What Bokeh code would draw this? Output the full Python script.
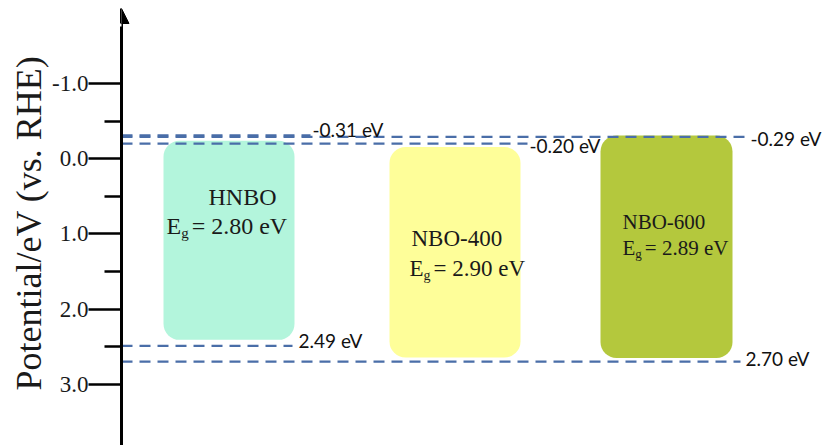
from bokeh.plotting import figure
from bokeh.models import Range1d, FixedTicker, Arrow, NormalHead, PrintfTickFormatter
from bokeh.core.properties import value
from bokeh.embed import file_html
from bokeh.resources import INLINE

# ---------------- data ----------------
samples = ["HNBO", "NBO-400", "NBO-600"]
band_gap = [2.80, 2.90, 2.89]
box_top = [-0.24, -0.155, -0.31]        # drawn top of each band box
box_bottom = [2.41, 2.645, 2.65]        # drawn bottom of each band box
box_colors = ["#b3f5dc", "#fefe99", "#b4c83d"]

level_values = [-0.31, -0.20, -0.29, 2.49, 2.70]
level_labels = ["-0.31 eV", "-0.20 eV", "-0.29 eV", "2.49 eV", "2.70 eV"]

y_ticks = [-1.0, 0.0, 1.0, 2.0, 3.0]
y_minor = [-0.5, 0.5, 1.5, 2.5]

# ---------------- layout (image pixel helpers) ----------------
W, H = 827, 445
AXIS_IMG_X = 121
ZERO_IMG_Y = 158.25
PX_PER_UNIT = 75.15


def X(img_x):
    return img_x - AXIS_IMG_X


def Y(img_y):
    return (img_y - ZERO_IMG_Y) / PX_PER_UNIT


y_top = Y(0)
y_bot = Y(H)

p = figure(width=W, height=H, output_backend="svg", toolbar_location=None,
           x_range=Range1d(0, W - AXIS_IMG_X), y_range=Range1d(y_bot, y_top),
           x_axis_location=None, min_border_left=AXIS_IMG_X, min_border_right=0,
           min_border_top=0, min_border_bottom=0)
p.grid.visible = False
p.outline_line_color = None
p.background_fill_color = "white"
p.border_fill_color = "white"

serif = "Liberation Serif"
sans = "Lato"

# band boxes
box_left = [X(163), X(389), X(600)]
box_right = [X(294), X(520), X(732)]
p.quad(left=box_left, right=box_right, top=box_top, bottom=box_bottom,
       fill_color=box_colors, line_color=None, border_radius=16)

# dashed level lines
line_end = [X(310), X(527), X(745), X(292), X(740)]
p.segment(x0=[0] * len(level_values), y0=level_values, x1=line_end, y1=level_values,
          line_color="#4a6ea8", line_width=2.2, line_dash="11 7")

label_x = [X(312), X(529), X(750), X(298), X(745)]
label_y = [Y(129), Y(145), Y(138), Y(340), Y(358)]
p.text(x=label_x, y=label_y, text=level_labels, text_font=value(sans),
       text_font_size="19px", text_baseline="middle", text_align="left",
       text_color="#111111")

# sample names and band gaps
name_left = [X(208), X(411), X(622)]
name_y = [Y(196), Y(238), Y(221)]
eg_left = [X(166), X(409), X(622)]
eg_y = [Y(225), Y(268), Y(247)]
fsizes = [24, 23, 21]
for i, name in enumerate(samples):
    f = fsizes[i]
    p.text(x=[name_left[i]], y=[name_y[i]], text=[name], text_font=value(serif),
           text_font_size=f"{f}px", text_baseline="middle", text_color="#1a1a1a")
    p.text(x=[eg_left[i]], y=[eg_y[i]], text=["E"], text_font=value(serif),
           text_font_size=f"{f}px", text_baseline="middle", text_color="#1a1a1a")
    fs = round(f * 0.62)
    p.text(x=[eg_left[i] + 0.611 * f], y=[eg_y[i] + 0.30 * f / PX_PER_UNIT], text=["g"],
           text_font=value(serif), text_font_size=f"{fs}px", text_baseline="middle",
           text_color="#1a1a1a")
    p.text(x=[eg_left[i] + 0.611 * f + 0.5 * fs + 3], y=[eg_y[i]],
           text=[f"= {band_gap[i]:.2f} eV"], text_font=value(serif),
           text_font_size=f"{f}px", text_baseline="middle", text_color="#1a1a1a")

# y axis
ax = p.yaxis[0]
ax.ticker = FixedTicker(ticks=y_ticks, minor_ticks=y_minor)
ax.formatter = PrintfTickFormatter(format="%.1f")
ax.bounds = (Y(26), y_bot)
ax.axis_line_width = 3
ax.axis_line_color = "black"
ax.major_tick_line_width = 2.5
ax.major_tick_line_color = "black"
ax.major_tick_out = 33
ax.major_tick_in = 0
ax.minor_tick_line_width = 2.5
ax.minor_tick_line_color = "black"
ax.minor_tick_out = 17
ax.minor_tick_in = 0
ax.major_label_standoff = 0
ax.major_label_text_font = serif
ax.major_label_text_font_size = "23px"
ax.major_label_text_color = "#1a1a1a"
ax.axis_label = "Potential/eV (vs. RHE)"
ax.axis_label_text_font = serif
ax.axis_label_text_font_size = "36px"
ax.axis_label_text_font_style = "normal"
ax.axis_label_text_color = "#1a1a1a"
ax.axis_label_standoff = 0

p.add_layout(Arrow(end=NormalHead(size=15, fill_color="black", line_color="black"),
                   x_start=0, y_start=Y(30), x_end=0, y_end=Y(8),
                   line_width=3, line_color="black"))

open("out.html", "w").write(file_html(p, INLINE))
